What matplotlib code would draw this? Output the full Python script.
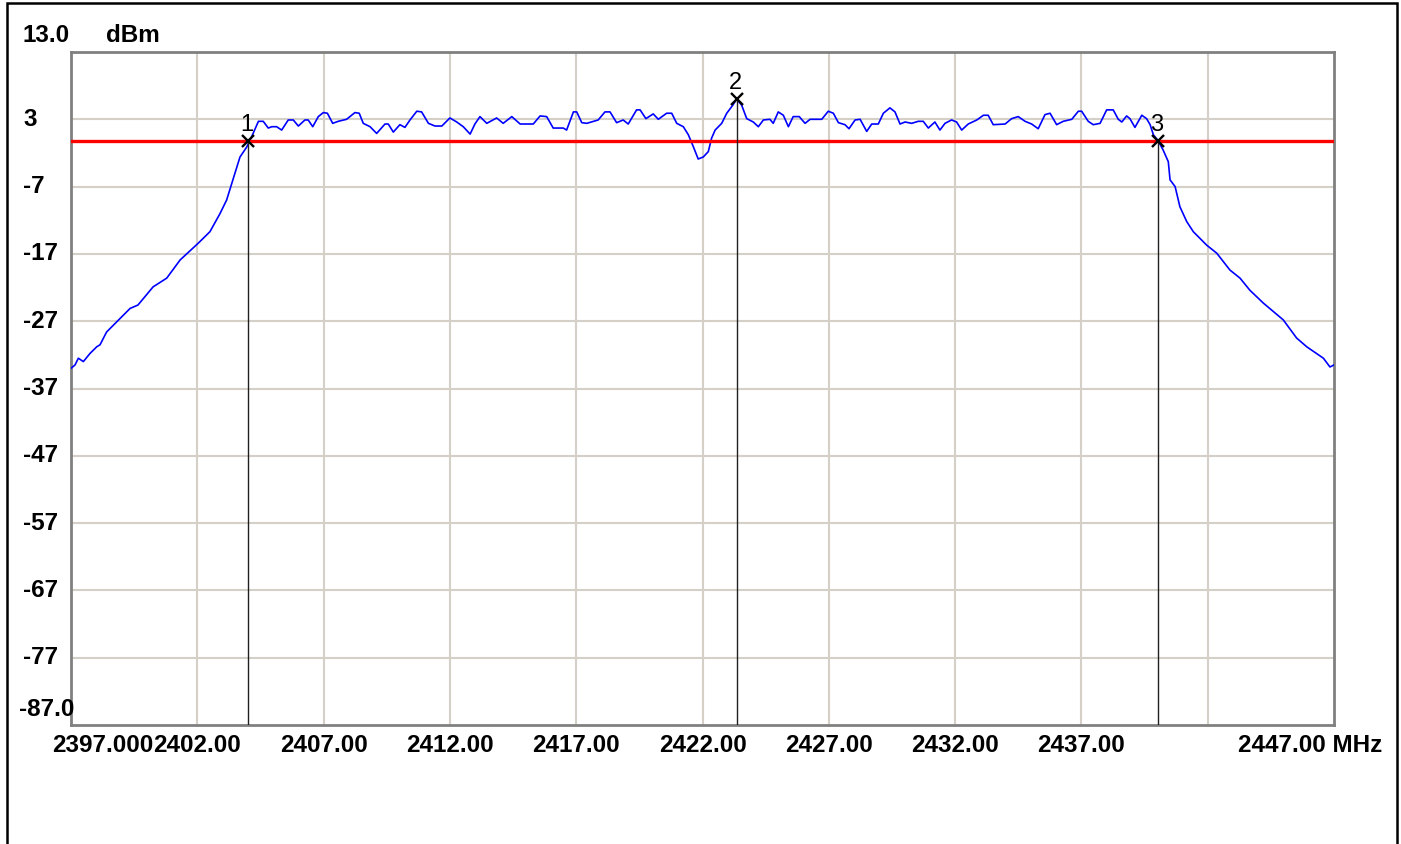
import matplotlib
matplotlib.use("Agg")
import matplotlib.pyplot as plt
from matplotlib.patches import Rectangle
from matplotlib import transforms

plt.rcParams['font.family'] = ['Liberation Sans', 'DejaVu Sans']

# ---------------- data ----------------
skirt_left_freq = [2397.00, 2397.16, 2397.29, 2397.49, 2397.75, 2398.02, 2398.15, 2398.41, 2398.94,
                   2399.34, 2399.65, 2400.25, 2400.79, 2401.32, 2402.04, 2402.50, 2402.90, 2403.16,
                   2403.41, 2403.69, 2403.96]
skirt_left_dbm = [-34.0, -33.5, -32.5, -33.0, -31.8, -30.8, -30.5, -28.6, -26.6,
                  -25.1, -24.6, -21.9, -20.6, -17.9, -15.4, -13.7, -11.0, -9.0,
                  -6.0, -2.6, -1.1]

band_freq = [2404.15, 2404.42, 2404.61, 2404.81, 2404.95, 2405.14, 2405.34, 2405.60, 2405.80, 2406.00,
             2406.26, 2406.39, 2406.57, 2406.79, 2406.99, 2407.15, 2407.36, 2407.58, 2407.91, 2408.24,
             2408.41, 2408.57, 2408.84, 2409.10, 2409.43, 2409.56, 2409.76, 2410.02, 2410.22, 2410.42,
             2410.69, 2410.88, 2411.15, 2411.41, 2411.68, 2412.00, 2412.27, 2412.53, 2412.80, 2412.99,
             2413.19, 2413.46, 2413.85, 2414.11, 2414.45, 2414.78, 2415.30, 2415.57, 2415.83,
             2416.09, 2416.49, 2416.62, 2416.89, 2417.02, 2417.22, 2417.42, 2417.87, 2418.14, 2418.34,
             2418.60, 2418.86, 2419.06, 2419.39, 2419.53, 2419.76, 2420.05, 2420.25, 2420.58, 2420.78,
             2420.98, 2421.24, 2421.44, 2421.64, 2421.83, 2422.03, 2422.23, 2422.36, 2422.50, 2422.76,
             2422.96, 2423.20, 2423.35, 2423.55, 2423.75, 2424.01, 2424.21, 2424.41, 2424.67, 2424.80,
             2425.00, 2425.20, 2425.40, 2425.59, 2425.83, 2426.06, 2426.26, 2426.72, 2426.98, 2427.18,
             2427.38, 2427.64, 2427.80,
             2428.04, 2428.24, 2428.50, 2428.70, 2428.96, 2429.16, 2429.42, 2429.62, 2429.82, 2430.02,
             2430.28, 2430.54, 2430.74, 2430.94, 2431.20, 2431.40, 2431.60, 2431.86, 2432.06, 2432.26,
             2432.52, 2432.86, 2433.12, 2433.31, 2433.51, 2433.98, 2434.24, 2434.50, 2434.77, 2435.03,
             2435.29, 2435.56, 2435.76, 2436.02, 2436.28, 2436.62, 2436.88, 2437.01, 2437.27, 2437.47,
             2437.74, 2438.00, 2438.26, 2438.46, 2438.60, 2438.79, 2438.92, 2439.12, 2439.39, 2439.58,
             2439.72, 2439.85, 2440.04, 2440.24, 2440.44]
band_dbm = [0.4, 2.7, 2.7, 1.7, 1.9, 1.9, 1.4, 2.9, 2.9, 2.0,
            2.9, 2.9, 1.9, 3.4, 4.0, 3.9, 2.4, 2.7, 3.0, 4.0,
            3.9, 2.4, 1.9, 0.9, 2.3, 2.3, 1.1, 2.2, 1.8, 2.9,
            4.2, 4.1, 2.4, 2.0, 2.0, 3.2, 2.6, 1.9, 0.8, 2.3,
            3.4, 2.4, 3.2, 2.4, 3.4, 2.3, 2.3, 3.5, 3.4,
            1.7, 1.7, 1.4, 4.1, 4.1, 2.5, 2.4, 2.9, 4.1, 4.1,
            2.5, 2.9, 2.3, 4.4, 4.4, 3.1, 3.8, 3.0, 3.9, 3.9,
            2.4, 1.9, 0.7, -1.1, -2.9, -2.6, -1.8, 0.2, 1.4, 2.4,
            3.9, 5.1, 6.0, 5.1, 3.1, 2.6, 1.9, 2.9, 3.0, 2.4,
            4.1, 3.6, 1.9, 3.4, 3.4, 2.4, 3.0, 3.0, 4.2, 3.9,
            2.5, 2.2, 1.6,
            2.9, 3.0, 1.2, 2.3, 2.3, 3.9, 4.7, 4.1, 2.3, 2.6,
            2.4, 2.7, 2.7, 1.7, 2.6, 1.4, 2.4, 2.9, 2.6, 1.4,
            2.3, 2.9, 3.6, 3.6, 2.2, 2.3, 3.1, 3.4, 2.7, 2.3,
            1.6, 3.7, 3.9, 2.2, 2.7, 3.0, 4.2, 4.2, 2.7, 2.2,
            2.4, 4.4, 4.4, 3.0, 2.6, 3.5, 3.1, 1.8, 3.6, 3.1,
            2.2, 0.7, -0.2, -1.6, -3.3]

skirt_right_freq = [2440.51, 2440.71, 2440.90, 2441.17, 2441.43, 2441.96, 2442.36, 2442.88, 2443.28,
                    2443.67, 2444.20, 2444.99, 2445.52, 2445.92, 2446.58, 2446.84, 2447.00]
skirt_right_dbm = [-6.0, -7.0, -10.0, -12.2, -13.7, -15.7, -16.9, -19.4, -20.6,
                   -22.4, -24.3, -26.8, -29.5, -30.8, -32.5, -33.8, -33.5]

ref_level = -0.2
marker_freq = [2404.00, 2423.35, 2440.05]
marker_dbm = [-0.2, 6.0, -0.2]
marker_names = ['1', '2', '3']

x_min, x_max = 2397.0, 2447.0
y_min, y_max = -87.0, 13.0
x_grid = [2402, 2407, 2412, 2417, 2422, 2427, 2432, 2437, 2442]
x_labels = ['2402.00', '2407.00', '2412.00', '2417.00', '2422.00', '2427.00', '2432.00', '2437.00']
y_grid = [3, -7, -17, -27, -37, -47, -57, -67, -77]
y_labels = ['3', '-7', '-17', '-27', '-37', '-47', '-57', '-67', '-77']

freq = skirt_left_freq + band_freq + skirt_right_freq
level = skirt_left_dbm + band_dbm + skirt_right_dbm

# ---------------- figure ----------------
W, H = 1401, 844
fig = plt.figure(figsize=(W / 100, H / 100), dpi=100)
fig.patch.set_facecolor('white')

L, R, T, B = 71, 1334, 52, 725
ax = fig.add_axes([L / W, 1 - B / H, (R - L) / W, (B - T) / H])
ax.set_xlim(x_min, x_max)
ax.set_ylim(y_min, y_max)
ax.set_facecolor('white')

for s in ax.spines.values():
    s.set_color('#808080')
    s.set_linewidth(2.0)

ax.set_xticks(x_grid)
ax.set_yticks(y_grid)
ax.tick_params(length=0, labelbottom=False, labelleft=False)
ax.grid(True, color='#d4d0c8', linewidth=1.5)
ax.set_axisbelow(True)

# trace
ax.plot(freq, level, color='#0000ff', linewidth=1.2, zorder=3)
# reference line
ax.axhline(ref_level, color='#ff0000', linewidth=2.4, zorder=4)
# markers
for f, d, n in zip(marker_freq, marker_dbm, marker_names):
    ax.plot([f, f], [y_min, d], color='#202020', linewidth=1.0, zorder=5)
    ax.plot([f], [d], marker='x', color='black', markersize=8, markeredgewidth=1.7, zorder=6)
    ax.annotate(n, (f, d), xytext=(-1, 11.5), textcoords='offset points',
                ha='center', va='center', fontsize=17, color='black', zorder=7)

tfont = dict(fontsize=17.5, fontweight='bold', color='black')

# y labels
ytrans = transforms.blended_transform_factory(fig.transFigure, ax.transData)
for v, lab in zip(y_grid, y_labels):
    fig.text(23 / W, v, lab, transform=ytrans, ha='left', va='center', **tfont)
fig.text(22 / W, 1 - 36 / H, '13.0', ha='left', va='center', **tfont)
fig.text(106 / W, 1 - 36 / H, 'dBm', ha='left', va='center', **tfont)
fig.text(19 / W, 1 - 709 / H, '-87.0', ha='left', va='center', **tfont)

# x labels
xtrans = transforms.blended_transform_factory(ax.transData, fig.transFigure)
ylab = 1 - 745 / H
for v, lab in zip(x_grid, x_labels):
    fig.text(v, ylab, lab, transform=xtrans, ha='center', va='center', **tfont)
fig.text(52 / W, ylab, '2397.000', ha='left', va='center', **tfont)
fig.text(1238 / W, ylab, '2447.00 MHz', ha='left', va='center', **tfont)

# outer window frame
fig.add_artist(Rectangle((6.5 / W, -0.05), (1397 - 6.5) / W, 1.05 - 3 / H,
                         transform=fig.transFigure, fill=False, edgecolor='black', linewidth=1.8))

fig.savefig('out.png', dpi=100, facecolor='white')
